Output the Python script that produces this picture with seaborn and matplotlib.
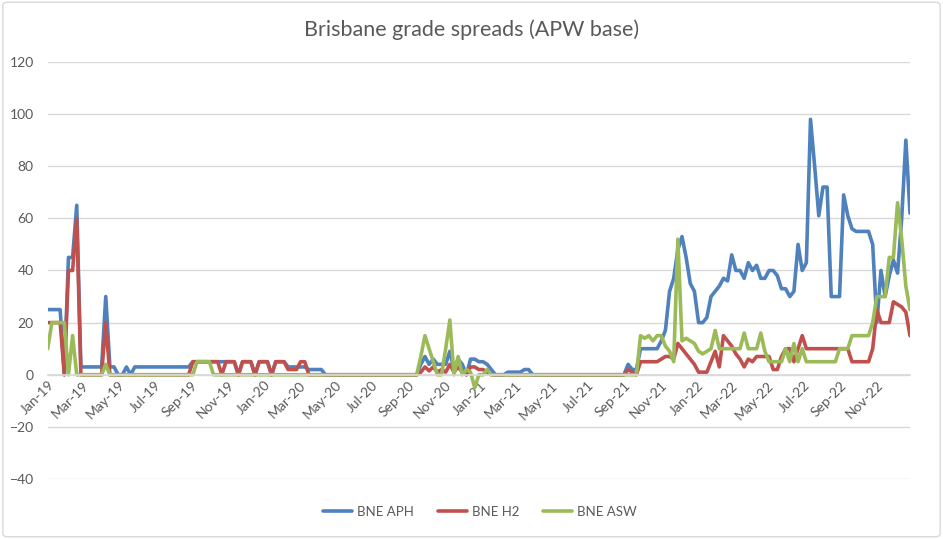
import seaborn as sns
import matplotlib.pyplot as plt
import pandas as pd
from matplotlib.patches import FancyBboxPatch

# weekly prices, Jan-2019 .. Dec-2022
weeks = pd.date_range('2019-01-04', periods=209, freq='7D')

bne_aph = [
    25, 25, 25, 25, 0, 45, 45, 65, 3, 3,
    3, 3, 3, 3, 30, 3, 3, 0, 0, 3,
    0, 3, 3, 3, 3, 3, 3, 3, 3, 3,
    3, 3, 3, 3, 3, 5, 5, 5, 5, 5,
    5, 5, 5, 5, 5, 5, 0, 5, 5, 5,
    0, 5, 5, 5, 0, 5, 5, 5, 3, 3,
    3, 3, 3, 2, 2, 2, 2, 0, 0, 0,
    0, 0, 0, 0, 0, 0, 0, 0, 0, 0,
    0, 0, 0, 0, 0, 0, 0, 0, 0, 0,
    4, 7, 4, 6, 4, 4, 4, 9, 2, 6,
    4, 0, 6, 6, 5, 5, 4, 2, 0, 0,
    0, 1, 1, 1, 1, 2, 2, 0, 0, 0,
    0, 0, 0, 0, 0, 0, 0, 0, 0, 0,
    0, 0, 0, 0, 0, 0, 0, 0, 0, 0,
    4, 2, 2, 10, 10, 10, 10, 10, 13, 17,
    32, 37, 48, 53, 45, 35, 32, 20, 20, 22,
    30, 32, 34, 37, 36, 46, 40, 40, 37, 43,
    40, 42, 37, 37, 40, 40, 38, 33, 33, 30,
    32, 50, 40, 43, 98, 80, 61, 72, 72, 30,
    30, 30, 69, 61, 56, 55, 55, 55, 55, 50,
    20, 40, 30, 38, 44, 39, 60, 90, 62,
]

bne_h2 = [
    20, 20, 20, 20, 0, 40, 40, 60, 0, 0,
    0, 0, 0, 0, 20, 0, 0, 0, 0, 0,
    0, 0, 0, 0, 0, 0, 0, 0, 0, 0,
    0, 0, 0, 0, 0, 5, 5, 5, 5, 5,
    5, 5, 0, 5, 5, 5, 0, 5, 5, 5,
    0, 5, 5, 5, 0, 5, 5, 5, 2, 2,
    2, 5, 5, 0, 0, 0, 0, 0, 0, 0,
    0, 0, 0, 0, 0, 0, 0, 0, 0, 0,
    0, 0, 0, 0, 0, 0, 0, 0, 0, 0,
    1, 3, 1.5, 3, 1, 2, 1, 4, 1, 3,
    1, 0, 3, 3, 2, 2, 1, 0, 0, 0,
    0, 0, 0, 0, 0, 0, 0, 0, 0, 0,
    0, 0, 0, 0, 0, 0, 0, 0, 0, 0,
    0, 0, 0, 0, 0, 0, 0, 0, 0, 0,
    2, 1, 0, 5, 5, 5, 5, 5, 6, 7,
    7, 6, 12, 10, 8, 6, 4, 1, 1, 1,
    5, 9, 3, 15, 13, 11, 8, 6, 3, 6,
    5, 7, 7, 7, 7, 2, 2, 7, 10, 10,
    5, 10, 15, 10, 10, 10, 10, 10, 10, 10,
    10, 10, 10, 10, 5, 5, 5, 5, 5, 10,
    25, 20, 20, 20, 28, 27, 26, 24, 15,
]

bne_asw = [
    10, 20, 20, 20, 20, 0, 15, 0, 0, 0,
    0, 0, 0, 0, 4, 0, 0, 0, 0, 0,
    0, 0, 0, 0, 0, 0, 0, 0, 0, 0,
    0, 0, 0, 0, 0, 0, 5, 5, 5, 5,
    0, 0, 0, 0, 0, 0, 0, 0, 0, 0,
    0, 0, 0, 0, 0, 0, 0, 0, 0, 0,
    0, 0, 0, 0, 0, 0, 0, 0, 0, 0,
    0, 0, 0, 0, 0, 0, 0, 0, 0, 0,
    0, 0, 0, 0, 0, 0, 0, 0, 0, 0,
    7, 15, 10, 5, 0, 0, 10, 21, 0, 7,
    0, 2, 1, -5, 0, 0, 2, 0, 0, 0,
    0, 0, 0, 0, 0, 0, 0, 0, 0, 0,
    0, 0, 0, 0, 0, 0, 0, 0, 0, 0,
    0, 0, 0, 0, 0, 0, 0, 0, 0, 0,
    0, 0, 0, 15, 14, 15, 13, 15, 15, 11,
    9, 5, 52, 13, 14, 13, 12, 9, 8, 9,
    10, 17, 10, 10, 10, 10, 10, 10, 16, 10,
    10, 10, 16, 9, 5, 5, 5, 5, 10, 5,
    12, 5, 10, 5, 5, 5, 5, 5, 5, 5,
    5, 10, 10, 10, 15, 15, 15, 15, 15, 20,
    30, 30, 30, 45, 45, 66, 52, 34, 25,
]

series_names = ['BNE APH', 'BNE H2', 'BNE ASW']
colors = ['#4F81BD', '#C0504D', '#9BBB59']

df = pd.DataFrame({'Date': weeks, 'BNE APH': bne_aph, 'BNE H2': bne_h2, 'BNE ASW': bne_asw})
long_df = df.melt(id_vars='Date', var_name='Grade', value_name='Spread')

sns.set_theme(style='white')
plt.rcParams['font.family'] = ['Lato', 'DejaVu Sans']
grey = '#595959'

fig = plt.figure(figsize=(9.43, 5.39), dpi=100)
ax = fig.add_axes([0.0506, 0.1113, 0.9144, 0.7737])

sns.lineplot(data=long_df, x='Date', y='Spread', hue='Grade', hue_order=series_names,
             palette=colors, linewidth=2.6, ax=ax)

# spines first (moving the spine resets the ticks)
for s in ['top', 'right', 'left']:
    ax.spines[s].set_visible(False)
ax.spines['bottom'].set_position(('data', 0))
ax.spines['bottom'].set_color('#d9d9d9')

# y axis
ax.set_ylim(-40, 120)
ax.set_yticks(range(-40, 121, 20))
ax.yaxis.grid(True, color='#d9d9d9', linewidth=1)
ax.xaxis.grid(False)
ax.tick_params(axis='y', length=0, pad=10, labelsize=10, labelcolor=grey)

# x axis crosses at 0, labels every 2 months
ax.set_xlim(weeks[0], weeks[-1])
tick_dates = pd.date_range(weeks[0], weeks[-1], freq=pd.DateOffset(months=2))
ax.set_xticks(tick_dates)
ax.set_xticklabels([d.strftime('%b-%y') for d in tick_dates])
ax.tick_params(axis='x', length=0, pad=3, labelsize=10, labelcolor=grey)
for lbl in ax.get_xticklabels():
    lbl.set_rotation(45)
    lbl.set_ha('right')
    lbl.set_va('top')
    lbl.set_rotation_mode('anchor')
ax.set_xlabel('')
ax.set_ylabel('')

# legend at the bottom
handles, labels = ax.get_legend_handles_labels()
ax.legend(handles, labels, loc='center', bbox_to_anchor=(0.509, 1 - 512 / 539),
          bbox_transform=fig.transFigure, ncol=3, frameon=False, handlelength=2.2,
          handletextpad=0.4, columnspacing=1.8, fontsize=9.5, labelcolor=grey)

fig.text(0.5, 1 - 30 / 539, 'Brisbane grade spreads (APW base)', ha='center', va='center',
         fontsize=15.5, color=grey)

# chart border
fig.patches.append(FancyBboxPatch((0.003, 0.004), 0.994, 0.992,
                                  boxstyle='round,pad=0,rounding_size=0.006',
                                  transform=fig.transFigure, fill=False,
                                  edgecolor='#d9d9d9', linewidth=1))

fig.savefig('out.png', dpi=100)
